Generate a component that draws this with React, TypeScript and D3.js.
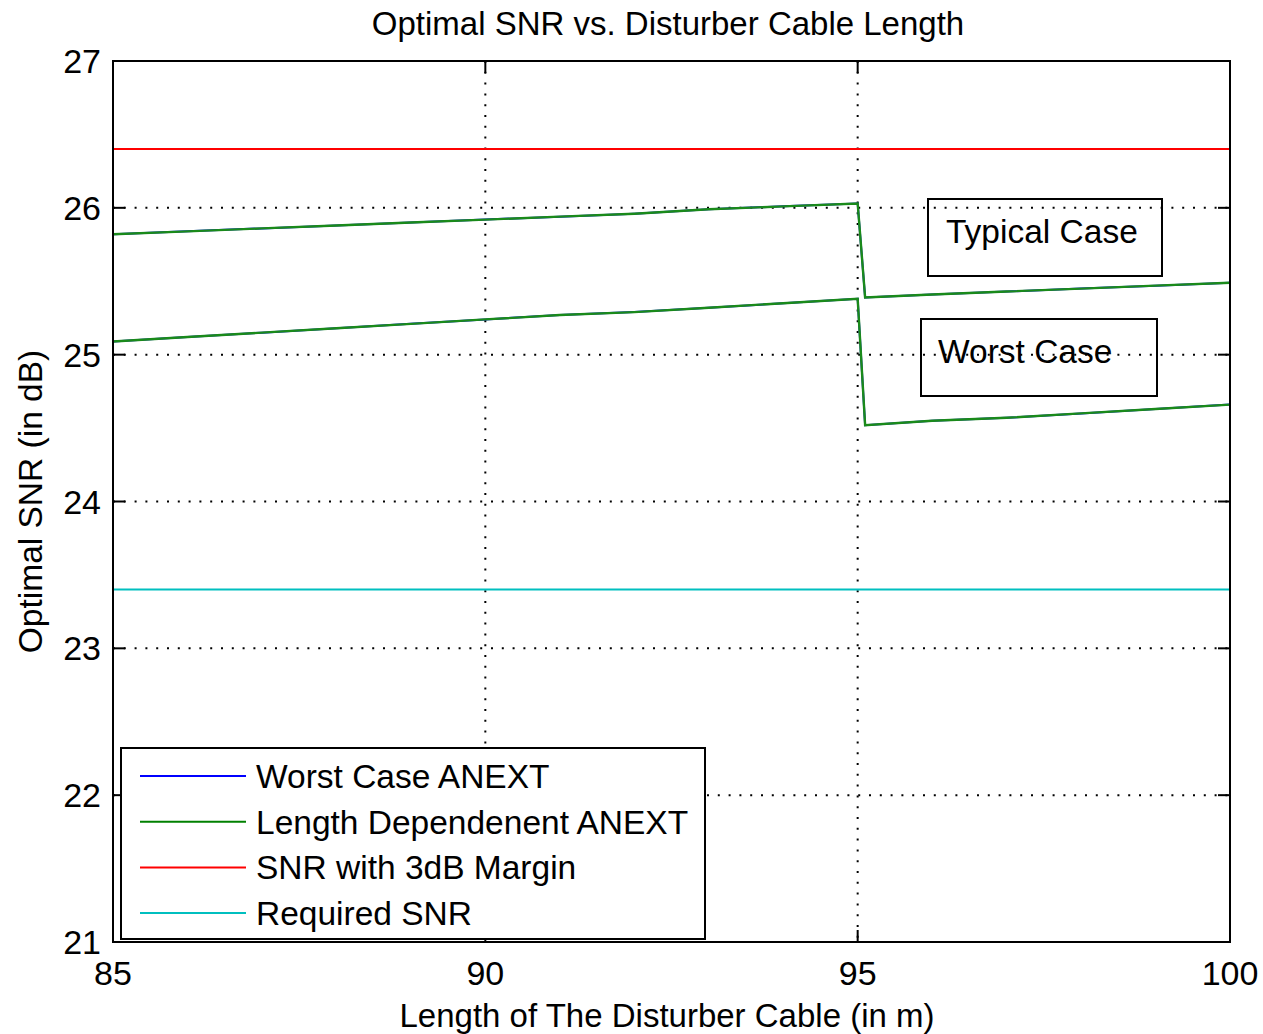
import React from "react";
import * as d3 from "d3";

// Disturber cable length samples (m)
const lengths = [85, 86, 87, 88, 89, 90, 91, 92, 93, 94, 95, 95.1, 96, 97, 98, 99, 100];
// Typical case optimal SNR (dB)
const typicalSNR = [25.82, 25.84, 25.86, 25.88, 25.9, 25.92, 25.94, 25.96, 25.99, 26.01, 26.03, 25.39, 25.41, 25.43, 25.45, 25.47, 25.49];
// Worst case optimal SNR (dB)
const worstSNR = [25.09, 25.12, 25.15, 25.18, 25.21, 25.24, 25.27, 25.29, 25.32, 25.35, 25.38, 24.52, 24.55, 24.57, 24.6, 24.63, 24.66];
// Reference levels (dB)
const marginSNR = 26.4;
const requiredSNR = 23.4;

const xTicks = [85, 90, 95, 100];
const yTicks = [21, 22, 23, 24, 25, 26, 27];

const legendItems = [
  { label: "Worst Case ANEXT", color: "#0000ff" },
  { label: "Length Dependenent ANEXT", color: "#008000" },
  { label: "SNR with 3dB Margin", color: "#ff0000" },
  { label: "Required SNR", color: "#00bfbf" },
];

const W = 1263;
const H = 1034;
const L = 113, R = 1230, T = 61, B = 942;
const FONT = "'Liberation Sans', Arial, Helvetica, sans-serif";

export default function App() {
  const x = d3.scaleLinear().domain([85, 100]).range([L, R]);
  const y = d3.scaleLinear().domain([21, 27]).range([B, T]);
  const line = d3
    .line<[number, number]>()
    .x((d) => x(d[0]))
    .y((d) => y(d[1]));
  const typ = lengths.map((l, i) => [l, typicalSNR[i]] as [number, number]);
  const wst = lengths.map((l, i) => [l, worstSNR[i]] as [number, number]);
  const flat = (v: number) => [[85, v], [100, v]] as [number, number][];

  const tickLen = 12;
  const dash = "2,8.8";

  return (
    <div style={{ position: "absolute", left: 0, top: 0 }}>
      <svg width={W} height={H} style={{ display: "block", background: "#fff" }} fontFamily={FONT}>
        <rect x={0} y={0} width={W} height={H} fill="#fff" />
        {/* grid */}
        {xTicks.filter((t) => t > 85 && t < 100).map((t) => (
          <line key={"gx" + t} x1={x(t)} x2={x(t)} y1={T} y2={B} stroke="#000" strokeWidth={2} strokeDasharray={dash} />
        ))}
        {yTicks.filter((t) => t > 21 && t < 27).map((t) => (
          <line key={"gy" + t} x1={L} x2={R} y1={y(t)} y2={y(t)} stroke="#000" strokeWidth={2} strokeDasharray={dash} />
        ))}
        {/* data lines */}
        <path d={line(flat(marginSNR))!} fill="none" stroke="#ff0000" strokeWidth={2} />
        <path d={line(flat(requiredSNR))!} fill="none" stroke="#00bfbf" strokeWidth={2} />
        <path d={line(typ)!} fill="none" stroke="#0000ff" strokeWidth={2} />
        <path d={line(wst)!} fill="none" stroke="#0000ff" strokeWidth={2} />
        <path d={line(typ)!} fill="none" stroke="#1a8a1a" strokeWidth={2.4} />
        <path d={line(wst)!} fill="none" stroke="#1a8a1a" strokeWidth={2.4} />
        {/* annotation boxes */}
        <rect x={928} y={199} width={234} height={77} fill="none" stroke="#000" strokeWidth={2} />
        <text x={946} y={243} fontSize={33.5} fill="#000">Typical Case</text>
        <rect x={921} y={319} width={236} height={77} fill="none" stroke="#000" strokeWidth={2} />
        <text x={938} y={363} fontSize={33.5} fill="#000">Worst Case</text>
        {/* ticks */}
        {xTicks.map((t) => (
          <g key={"tx" + t}>
            <line x1={x(t)} x2={x(t)} y1={B} y2={B - tickLen} stroke="#000" strokeWidth={2} />
            <line x1={x(t)} x2={x(t)} y1={T} y2={T + tickLen} stroke="#000" strokeWidth={2} />
            <text x={x(t)} y={985} fontSize={34} textAnchor="middle" fill="#000">{t}</text>
          </g>
        ))}
        {yTicks.map((t) => (
          <g key={"ty" + t}>
            <line x1={L} x2={L + tickLen} y1={y(t)} y2={y(t)} stroke="#000" strokeWidth={2} />
            <line x1={R} x2={R - tickLen} y1={y(t)} y2={y(t)} stroke="#000" strokeWidth={2} />
            <text x={101} y={y(t) + 12} fontSize={34} textAnchor="end" fill="#000">{t}</text>
          </g>
        ))}
        {/* frame */}
        <rect x={L} y={T} width={R - L} height={B - T} fill="none" stroke="#000" strokeWidth={2} />
        {/* legend */}
        <g>
          <rect x={121} y={748} width={584} height={191} fill="#fff" stroke="#000" strokeWidth={2} />
          {legendItems.map((it, i) => {
            const cy = 776 + i * 45.7;
            return (
              <g key={it.label}>
                <line x1={140} x2={246} y1={cy} y2={cy} stroke={it.color} strokeWidth={2} />
                <text x={256} y={cy + 12} fontSize={33.5} fill="#000">{it.label}</text>
              </g>
            );
          })}
        </g>
        {/* titles */}
        <text x={668} y={35} fontSize={33} textAnchor="middle" fill="#000">Optimal SNR vs. Disturber Cable Length</text>
        <text x={667} y={1027} fontSize={33} textAnchor="middle" fill="#000">Length of The Disturber Cable (in m)</text>
        <text transform={`translate(42,${(T + B) / 2}) rotate(-90)`} fontSize={33.5} textAnchor="middle" fill="#000">Optimal SNR (in dB)</text>
      </svg>
    </div>
  );
}
